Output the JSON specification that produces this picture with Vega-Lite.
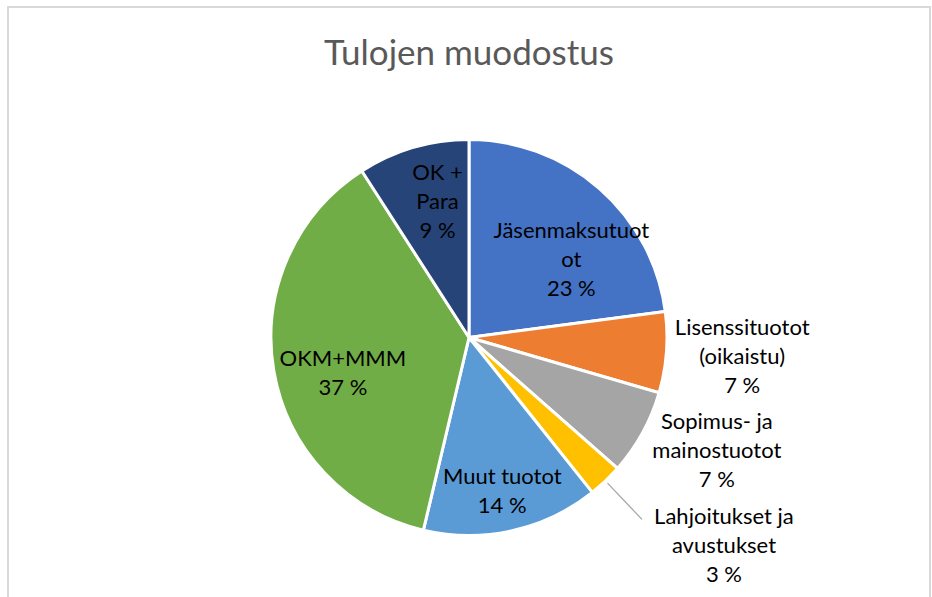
{
  "$schema": "https://vega.github.io/schema/vega-lite/v6.json",
  "width": 922,
  "height": 661,
  "autosize": {"type": "none"},
  "padding": {"left": 8, "top": 7, "right": 2, "bottom": -71},
  "background": "white",
  "title": {
    "text": "Tulojen muodostus",
    "font": "Lato",
    "fontSize": 35,
    "fontWeight": "normal",
    "color": "#595959",
    "anchor": "middle",
    "baseline": "alphabetic",
    "offset": -94
  },
  "config": {
    "view": {"stroke": null},
    "text": {"font": "Lato", "fontSize": 22, "lineBreak": "|", "lineHeight": 29, "baseline": "middle", "align": "center", "color": "#000000"}
  },
  "data": {
    "values": [
      {"name": "Jäsenmaksutuotot", "label": "Jäsenmaksutuot|ot|23 %", "share": 22.9, "order": 1},
      {"name": "Lisenssituotot (oikaistu)", "label": "Lisenssituotot|(oikaistu)|7 %", "share": 6.6, "order": 2},
      {"name": "Sopimus- ja mainostuotot", "label": "Sopimus- ja|mainostuotot|7 %", "share": 7.0, "order": 3},
      {"name": "Lahjoitukset ja avustukset", "label": "Lahjoitukset ja|avustukset|3 %", "share": 2.8, "order": 4},
      {"name": "Muut tuotot", "label": "Muut tuotot|14 %", "share": 14.4, "order": 5},
      {"name": "OKM+MMM", "label": "OKM+MMM|37 %", "share": 37.2, "order": 6},
      {"name": "OK + Para", "label": "OK +|Para|9 %", "share": 9.1, "order": 7}
    ]
  },
  "layer": [
    {
      "data": {"values": [{"frame": "border"}]},
      "mark": {"type": "rect", "fill": "white", "fillOpacity": 0, "stroke": "#D9D9D9", "strokeWidth": 2},
      "encoding": {
        "x": {"value": 0},
        "x2": {"value": "width"},
        "y": {"value": 0},
        "y2": {"value": "height"}
      }
    },
    {
      "mark": {"type": "arc", "radius": 198, "stroke": "white", "strokeWidth": 3},
      "encoding": {
        "theta": {"field": "share", "type": "quantitative", "stack": true},
        "order": {"field": "order", "type": "quantitative"},
        "color": {
          "field": "name",
          "type": "nominal",
          "legend": null,
          "scale": {
            "domain": ["Jäsenmaksutuotot", "Lisenssituotot (oikaistu)", "Sopimus- ja mainostuotot", "Lahjoitukset ja avustukset", "Muut tuotot", "OKM+MMM", "OK + Para"],
            "range": ["#4472C4", "#ED7D31", "#A5A5A5", "#FFC000", "#5B9BD5", "#70AD47", "#264478"]
          }
        }
      }
    },
    {
      "mark": {"type": "arc", "radius": 251, "radius2": 201, "padAngle": 0.6, "fill": "white", "fillOpacity": 0, "stroke": "#A6A6A6", "strokeWidth": 1.3},
      "encoding": {
        "theta": {"field": "share", "type": "quantitative", "stack": true},
        "order": {"field": "order", "type": "quantitative"},
        "strokeOpacity": {"condition": {"test": "datum.name === 'Lahjoitukset ja avustukset'", "value": 1}, "value": 0}
      }
    },
    {
      "mark": {"type": "text", "radius": 128, "dx": 18, "dy": -10},
      "encoding": {
        "theta": {"field": "share", "type": "quantitative", "stack": true},
        "order": {"field": "order", "type": "quantitative"},
        "text": {"field": "label", "type": "nominal"},
        "opacity": {"condition": {"test": "datum.name === 'Jäsenmaksutuotot'", "value": 1}, "value": 0}
      }
    },
    {
      "mark": {"type": "text", "radius": 273, "dx": 1, "dy": -30},
      "encoding": {
        "theta": {"field": "share", "type": "quantitative", "stack": true},
        "order": {"field": "order", "type": "quantitative"},
        "text": {"field": "label", "type": "nominal"},
        "opacity": {"condition": {"test": "datum.name === 'Lisenssituotot (oikaistu)'", "value": 1}, "value": 0}
      }
    },
    {
      "mark": {"type": "text", "radius": 260, "dx": 20, "dy": -41},
      "encoding": {
        "theta": {"field": "share", "type": "quantitative", "stack": true},
        "order": {"field": "order", "type": "quantitative"},
        "text": {"field": "label", "type": "nominal"},
        "opacity": {"condition": {"test": "datum.name === 'Sopimus- ja mainostuotot'", "value": 1}, "value": 0}
      }
    },
    {
      "mark": {"type": "text", "radius": 280, "dx": 62, "dy": -23},
      "encoding": {
        "theta": {"field": "share", "type": "quantitative", "stack": true},
        "order": {"field": "order", "type": "quantitative"},
        "text": {"field": "label", "type": "nominal"},
        "opacity": {"condition": {"test": "datum.name === 'Lahjoitukset ja avustukset'", "value": 1}, "value": 0}
      }
    },
    {
      "mark": {"type": "text", "radius": 157, "dx": -1, "dy": -14},
      "encoding": {
        "theta": {"field": "share", "type": "quantitative", "stack": true},
        "order": {"field": "order", "type": "quantitative"},
        "text": {"field": "label", "type": "nominal"},
        "opacity": {"condition": {"test": "datum.name === 'Muut tuotot'", "value": 1}, "value": 0}
      }
    },
    {
      "mark": {"type": "text", "radius": 132, "dx": 4, "dy": -1},
      "encoding": {
        "theta": {"field": "share", "type": "quantitative", "stack": true},
        "order": {"field": "order", "type": "quantitative"},
        "text": {"field": "label", "type": "nominal"},
        "opacity": {"condition": {"test": "datum.name === 'OKM+MMM'", "value": 1}, "value": 0}
      }
    },
    {
      "mark": {"type": "text", "radius": 140, "dx": 8, "dy": -30},
      "encoding": {
        "theta": {"field": "share", "type": "quantitative", "stack": true},
        "order": {"field": "order", "type": "quantitative"},
        "text": {"field": "label", "type": "nominal"},
        "opacity": {"condition": {"test": "datum.name === 'OK + Para'", "value": 1}, "value": 0}
      }
    }
  ]
}
